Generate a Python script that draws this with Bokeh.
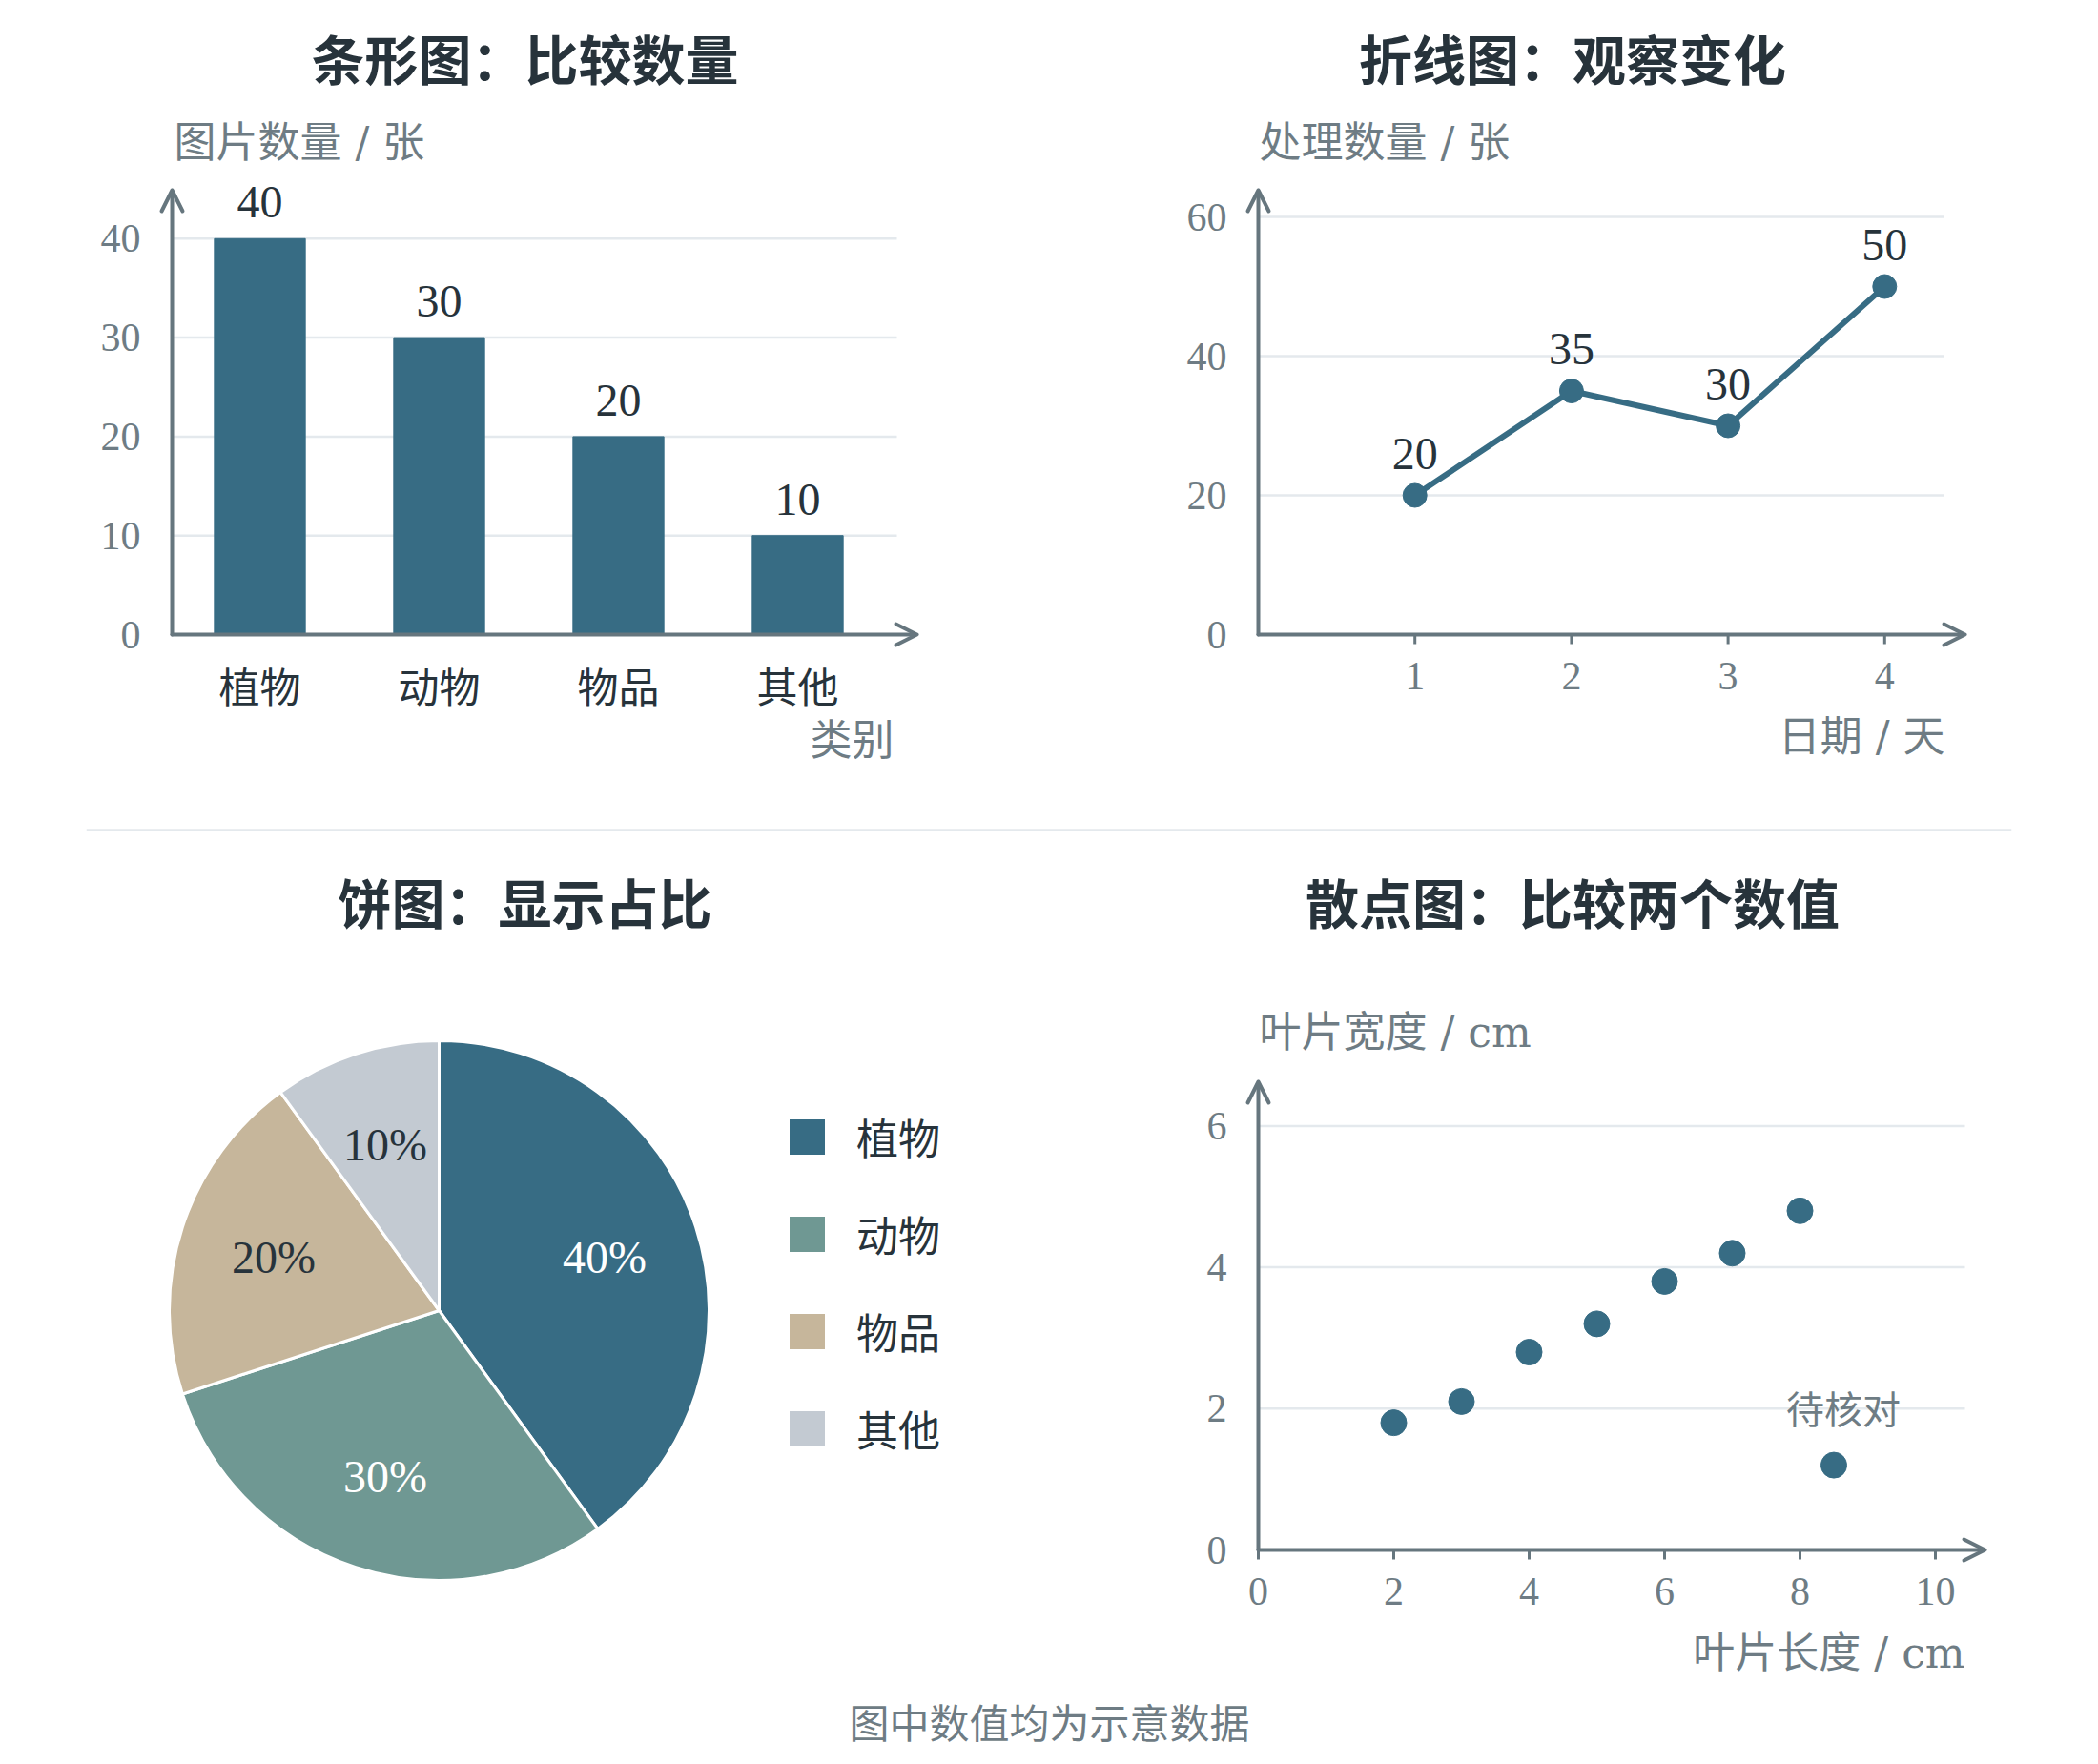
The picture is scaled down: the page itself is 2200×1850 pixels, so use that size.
import numpy as np
from bokeh.plotting import figure
from bokeh.models import Range1d, Label, Arrow, OpenHead, ColumnDataSource, Span
from bokeh.layouts import row, column
from bokeh.embed import file_html
from bokeh.resources import INLINE
from bokeh.core.properties import value

# ---------------- data ----------------
bar_categories = ["植物", "动物", "物品", "其他"]
bar_values = [40, 30, 20, 10]
bar_y_ticks = [0, 10, 20, 30, 40]

line_days = [1, 2, 3, 4]
line_values = [20, 35, 30, 50]
line_y_ticks = [0, 20, 40, 60]

pie_categories = ["植物", "动物", "物品", "其他"]
pie_shares = [40, 30, 20, 10]

scatter_length = [2, 3, 4, 5, 6, 7, 8, 8.5]
scatter_width = [1.8, 2.1, 2.8, 3.2, 3.8, 4.2, 4.8, 1.2]
scatter_x_ticks = [0, 2, 4, 6, 8, 10]
scatter_y_ticks = [0, 2, 4, 6]
flag_label = "待核对"
flag_index = 7

titles = ["条形图：比较数量", "折线图：观察变化", "饼图：显示占比", "散点图：比较两个数值"]
axis_titles = ["图片数量 / 张", "类别", "处理数量 / 张", "日期 / 天", "叶片宽度 / cm", "叶片长度 / cm"]
footnote = "图中数值均为示意数据"

# ---------------- style ----------------
DARK = "#27333b"
GRAY_TEXT = "#6e7c84"
AXIS = "#66767e"
GRID = "#e4e9ed"
BLUE = "#376c84"
PIE_COLORS = ["#376c84", "#6f9893", "#c6b69b", "#c3cad2"]
CJK = "Noto Sans CJK SC"
NUM = "Liberation Serif"
MIX = "'DejaVu Serif', 'Noto Sans CJK SC'"


class Frame:
    """pixel <-> data helper: (ox, oy) canvas px of the data origin, (sx, sy) px per unit"""
    def __init__(self, w, h, ox, oy, sx, sy):
        self.w, self.h, self.ox, self.oy, self.sx, self.sy = w, h, ox, oy, sx, sy

    def dx(self, px):
        return (px - self.ox) / self.sx

    def dy(self, py):
        return (self.oy - py) / self.sy


def make_fig(w, h, ox, oy, sx, sy):
    fr = Frame(w, h, ox, oy, sx, sy)
    p = figure(width=w, height=h, x_range=Range1d(fr.dx(0), fr.dx(w)),
               y_range=Range1d(fr.dy(h), fr.dy(0)), x_axis_type=None, y_axis_type=None,
               output_backend="svg", toolbar_location=None, tools="", title=None, min_border=0)
    p.outline_line_color = None
    p.background_fill_color = "white"
    p.border_fill_color = "white"
    return p, fr


def add_label(p, x, y, text, size, color, font, align="left", bold=False):
    p.add_layout(Label(x=x, y=y, x_units="canvas", y_units="canvas", text=text,
                       text_font=font, text_font_size=size, text_color=color,
                       text_align=align, text_baseline="middle",
                       text_font_style="bold" if bold else "normal"))


def draw_grid_and_y(p, fr, x0_px, grid_end_px, y_ticks):
    xs = fr.dx(x0_px)
    xg = fr.dx(grid_end_px)
    gt = [t for t in y_ticks if t != 0]
    p.segment(x0=[xs] * len(gt), y0=gt, x1=[xg] * len(gt), y1=gt,
              line_color=GRID, line_width=2.5)
    p.text(x=[xs] * len(y_ticks), y=y_ticks, text=[str(t) for t in y_ticks], x_offset=-33,
           text_align="right", text_baseline="middle", text_font=value(NUM),
           text_font_size="42px", text_color=GRAY_TEXT)


def draw_arrows(p, fr, x0_px, x_tip_px, y_tip_px):
    xs = fr.dx(x0_px)
    for xe, ye in [(fr.dx(x_tip_px), 0), (xs, fr.dy(y_tip_px))]:
        p.add_layout(Arrow(end=OpenHead(size=22, line_color=AXIS, line_width=4,
                                        line_cap="round", line_join="round"),
                           x_start=xs, y_start=0, x_end=xe, y_end=ye,
                           line_color=AXIS, line_width=4, line_cap="round"))


def draw_x_labels(p, fr, ticks, labels, center_py, font, size, color, tick_len=0):
    n = len(ticks)
    if tick_len:
        p.segment(x0=ticks, y0=[0] * n, x1=ticks, y1=[-tick_len / fr.sy] * n,
                  line_color=AXIS, line_width=3)
    p.text(x=ticks, y=[0] * n, text=labels, y_offset=center_py - fr.oy,
           text_align="center", text_baseline="middle", text_font=value(font),
           text_font_size=size, text_color=color)


# ---------------- bar chart ----------------
p1, f1 = make_fig(1100, 863, 272, 665, 188, 10.38)
idx = list(range(len(bar_categories)))
draw_grid_and_y(p1, f1, 180, 940, bar_y_ticks)
p1.vbar(x=idx, top=bar_values, width=0.507, color=BLUE)
p1.text(x=idx, y=bar_values, text=[str(v) for v in bar_values], text_align="center",
        text_baseline="middle", y_offset=-38, text_font=value(NUM),
        text_font_size="48px", text_color=DARK)
draw_x_labels(p1, f1, idx, bar_categories, 717, CJK, "43px", DARK)
draw_arrows(p1, f1, 180, 961, 199)
add_label(p1, 550, 59, titles[0], "56px", DARK, CJK, "center", True)
add_label(p1, 182, 149, axis_titles[0], "44px", GRAY_TEXT, MIX)
add_label(p1, 937, 772, axis_titles[1], "44px", GRAY_TEXT, CJK, "right")

# ---------------- line chart ----------------
p2, f2 = make_fig(1100, 863, 219, 665, 164.2, 7.3)
draw_grid_and_y(p2, f2, 219, 938.5, line_y_ticks)
p2.line(line_days, line_values, line_width=6, color=BLUE)
p2.scatter(line_days, line_values, size=25, color=BLUE)
p2.text(x=line_days, y=line_values, text=[str(v) for v in line_values], text_align="center",
        text_baseline="middle", y_offset=-44, text_font=value(NUM),
        text_font_size="48px", text_color=DARK)
draw_x_labels(p2, f2, line_days, [str(d) for d in line_days], 708.5, NUM, "42px",
              GRAY_TEXT, tick_len=10)
draw_arrows(p2, f2, 219, 960, 199)
add_label(p2, 548.5, 59, titles[1], "56px", DARK, CJK, "center", True)
add_label(p2, 220, 149, axis_titles[2], "44px", GRAY_TEXT, MIX)
add_label(p2, 939, 772, axis_titles[3], "44px", GRAY_TEXT, MIX, "right")

# ---------------- pie chart ----------------
R = 283.0
p3, f3 = make_fig(1100, 890, 460, 497, R, R)
shares = np.array(pie_shares, dtype=float)
frac = shares / shares.sum()
cum = np.concatenate([[0.0], np.cumsum(frac)])
start = np.pi / 2 - cum[:-1] * 2 * np.pi
end = np.pi / 2 - cum[1:] * 2 * np.pi
mid = np.pi / 2 - (cum[:-1] + frac / 2) * 2 * np.pi
src = ColumnDataSource(dict(cat=pie_categories, start=start, end=end, color=PIE_COLORS,
                            lx=0.645 * np.cos(mid), ly=0.645 * np.sin(mid),
                            txt=[f"{v}%" for v in pie_shares],
                            tcolor=["white", "white", DARK, DARK]))
p3.wedge(x=0, y=0, radius=1, start_angle="start", end_angle="end", direction="clock",
         fill_color="color", line_color="white", line_width=3, legend_field="cat", source=src)
p3.text(x="lx", y="ly", text="txt", text_color="tcolor", text_align="center",
        text_baseline="middle", text_font=value(NUM), text_font_size="48px", source=src)
lg = p3.legend[0]
lg.location = (821, 237)
lg.glyph_width = 50
lg.glyph_height = 50
lg.label_height = 50
lg.label_text_font = CJK
lg.label_text_font_size = "44px"
lg.label_text_color = DARK
lg.label_standoff = 27
lg.spacing = 38
lg.padding = 0
lg.margin = 0
lg.border_line_color = None
lg.background_fill_alpha = 0
add_label(p3, 550, 67, titles[2], "56px", DARK, CJK, "center", True)

# ---------------- scatter ----------------
p4, f4 = make_fig(1100, 890, 219, 748, 71.0, 74.1)
draw_grid_and_y(p4, f4, 219, 960, scatter_y_ticks)
p4.scatter(scatter_length, scatter_width, size=27, color=BLUE)
p4.text(x=[scatter_length[flag_index]], y=[scatter_width[flag_index]], text=[flag_label],
        x_offset=10, y_offset=-61, text_align="center", text_baseline="middle",
        text_font=value(CJK), text_font_size="40px", text_color=GRAY_TEXT)
draw_x_labels(p4, f4, scatter_x_ticks, [str(t) for t in scatter_x_ticks], 791, NUM, "42px",
              GRAY_TEXT, tick_len=10)
draw_arrows(p4, f4, 219, 981, 257)
add_label(p4, 548.5, 67, titles[3], "56px", DARK, CJK, "center", True)
add_label(p4, 220, 205, axis_titles[4], "44px", GRAY_TEXT, MIX)
add_label(p4, 960, 856, axis_titles[5], "44px", GRAY_TEXT, MIX, "right")

# ---------------- divider & footnote strips ----------------
div = figure(width=2200, height=14, x_range=Range1d(0, 1), y_range=Range1d(0, 1),
             x_axis_type=None, y_axis_type=None, output_backend="svg", toolbar_location=None,
             tools="", title=None, min_border_left=90, min_border_right=91,
             min_border_top=0, min_border_bottom=0)
div.outline_line_color = None
div.add_layout(Span(location=0.5, dimension="width", line_color=GRID, line_width=2.5))

foot = figure(width=2200, height=73, x_range=Range1d(0, 1), y_range=Range1d(0, 1),
              x_axis_type=None, y_axis_type=None, output_backend="svg", toolbar_location=None,
              tools="", title=None, min_border=0)
foot.outline_line_color = None
add_label(foot, 1100, 37, footnote, "42px", GRAY_TEXT, CJK, "center")

layout = column(row(p1, p2), div, row(p3, p4), foot)
open("out.html", "w").write(file_html(layout, INLINE))
